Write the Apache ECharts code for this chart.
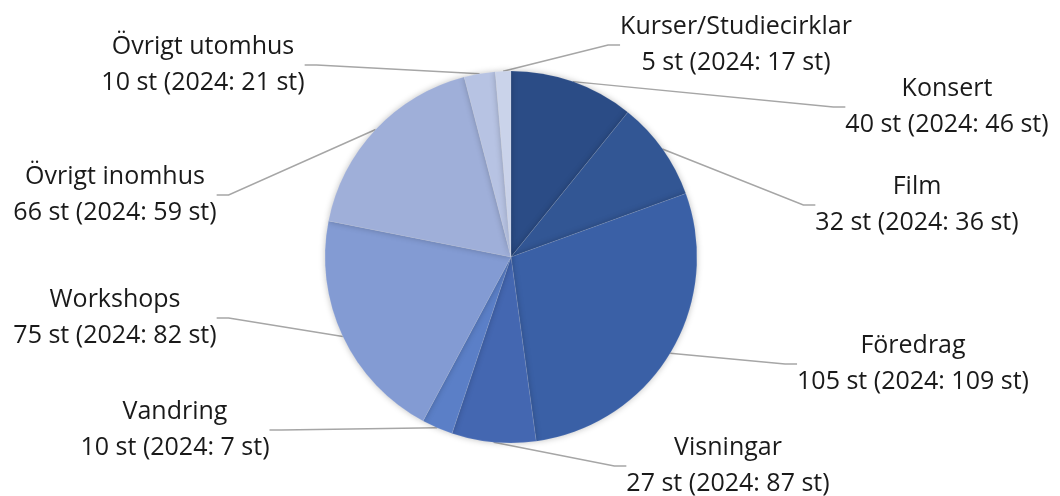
<!DOCTYPE html>
<html>
<head>
<meta charset="utf-8">
<script src="https://cdn.jsdelivr.net/npm/echarts@6/dist/echarts.min.js"></script>
<style>
    html, body { margin: 0; padding: 0; background: #fff; }
    #main { width: 1060px; height: 496px; }
</style>
</head>
<body>
<div id="main"></div>
<script>
// kategorier i medurs ordning från kl 12
var categories = ['Konsert', 'Film', 'Föredrag', 'Visningar', 'Vandring', 'Workshops', 'Övrigt inomhus', 'Övrigt utomhus', 'Kurser/Studiecirklar'];
var values2025 = [40, 32, 105, 27, 10, 75, 66, 10, 5];
var values2024 = [46, 36, 109, 87, 7, 82, 59, 21, 17];
var colors = ['#2b4c86', '#325694', '#3a60a6', '#4467b1', '#5b7fc7', '#839bd3', '#9fafd9', '#b7c3e3', '#cad3ea'];

// etikettpositioner (mitten av texten)
var labelPos = [
    [947, 107], [917, 205], [913, 364], [728, 466], [175, 430],
    [115, 318], [115, 195], [203, 65], [736, 45]
];

var chart = echarts.init(document.getElementById('main'));

var data = categories.map(function (name, i) {
    return {
        name: name,
        value: values2025[i],
        prev: values2024[i],
        itemStyle: { color: colors[i] }
    };
});

var option = {
    animation: false,
    series: [
        {
            type: 'pie',
            center: [511, 257],
            radius: 186,
            startAngle: 90,
            clockwise: true,
            data: data,
            itemStyle: {
                borderColor: 'rgba(255,255,255,0.2)',
                borderWidth: 0.5,
                shadowBlur: 6,
                shadowColor: 'rgba(0,0,0,0.25)'
            },
            label: {
                show: true,
                fontFamily: 'Open Sans',
                fontSize: 25,
                lineHeight: 36,
                color: '#1a1a1a',
                align: 'center',
                formatter: function (p) {
                    return p.name + '\n' + p.value + ' st (2024: ' + p.data.prev + ' st)';
                }
            },
            labelLine: {
                show: true,
                length: 20,
                length2: 12,
                lineStyle: { color: '#a6a6a6', width: 1.5 }
            },
            labelLayout: function (params) {
                var pos = labelPos[params.dataIndex];
                return {
                    x: pos[0],
                    y: pos[1],
                    align: 'center',
                    verticalAlign: 'middle'
                };
            }
        }
    ]
};

chart.setOption(option);
window.addEventListener('resize', function () {
    chart.resize();
});
</script>
</body>
</html>
